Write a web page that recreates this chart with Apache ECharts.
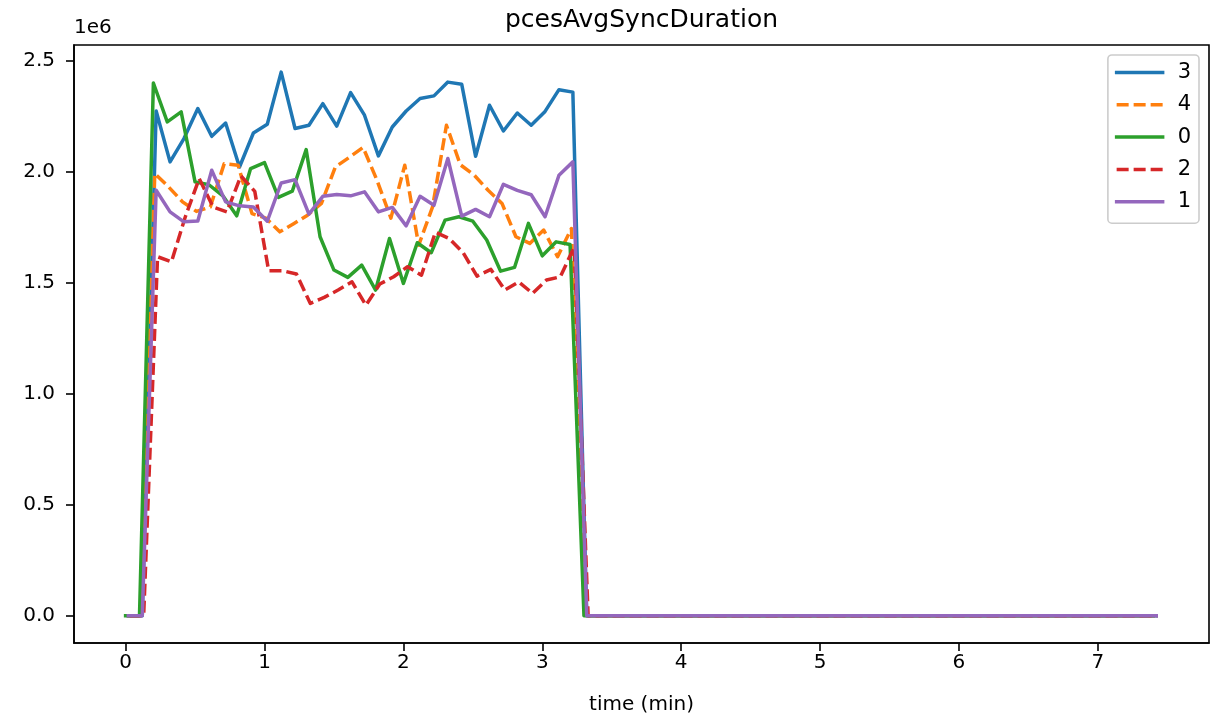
<!DOCTYPE html>
<html>
<head>
<meta charset="utf-8">
<script src="https://cdn.jsdelivr.net/npm/echarts@6/dist/echarts.min.js"></script>
<style>
  html, body { margin: 0; padding: 0; background: #fff; }
  #chart { width: 1211px; height: 718px; }
</style>
</head>
<body>
<div id="chart"></div>
<script>
// sample times (min), one sample every 6 s
const times = [
  0.0, 0.1, 0.2, 0.3, 0.4, 0.5, 0.6, 0.7, 0.8, 0.9,
  1.0, 1.1, 1.2, 1.3, 1.4, 1.5, 1.6, 1.7, 1.8, 1.9,
  2.0, 2.1, 2.2, 2.3, 2.4, 2.5, 2.6, 2.7, 2.8, 2.9,
  3.0, 3.1, 3.2, 3.3, 3.4, 3.5, 3.6, 3.7, 3.8, 3.9,
  4.0, 4.1, 4.2, 4.3, 4.4, 4.5, 4.6, 4.7, 4.8, 4.9,
  5.0, 5.1, 5.2, 5.3, 5.4, 5.5, 5.6, 5.7, 5.8, 5.9,
  6.0, 6.1, 6.2, 6.3, 6.4, 6.5, 6.6, 6.7, 6.8, 6.9,
  7.0, 7.1, 7.2, 7.3, 7.4
]

// each node samples a little later than node 0 (min)
const node3Offset = 0.02
const node4Offset = 0.01
const node0Offset = 0.0
const node2Offset = 0.03
const node1Offset = 0.02

// pcesAvgSyncDuration, x 1e6
const node3 = [
  0, 0,
  2.272, 2.043, 2.148, 2.283, 2.158, 2.218, 2.020, 2.173, 2.212, 2.447,
  2.193, 2.208, 2.305, 2.204, 2.355, 2.253, 2.070, 2.200, 2.272, 2.328,
  2.340, 2.402, 2.392, 2.068, 2.298, 2.182, 2.263, 2.208, 2.270, 2.368,
  2.357,
  0, 0, 0, 0, 0, 0, 0, 0, 0, 0, 0, 0, 0, 0, 0, 0, 0, 0, 0, 0, 0,
  0, 0, 0, 0, 0, 0, 0, 0, 0, 0, 0, 0, 0, 0, 0, 0, 0, 0, 0, 0, 0
]
const node4 = [
  0, 0,
  1.990, 1.930, 1.863, 1.820, 1.840, 2.035, 2.028, 1.810, 1.790, 1.728,
  1.765, 1.803, 1.856, 2.020, 2.063, 2.108, 1.960, 1.790, 2.028, 1.668,
  1.840, 2.208, 2.030, 1.983, 1.915, 1.856, 1.706, 1.676, 1.736, 1.616,
  1.743,
  0, 0, 0, 0, 0, 0, 0, 0, 0, 0, 0, 0, 0, 0, 0, 0, 0, 0, 0, 0, 0,
  0, 0, 0, 0, 0, 0, 0, 0, 0, 0, 0, 0, 0, 0, 0, 0, 0, 0, 0, 0, 0
]
const node0 = [
  0, 0,
  2.398, 2.223, 2.268, 1.953, 1.940, 1.890, 1.800, 2.013, 2.040, 1.883,
  1.911, 2.098, 1.706, 1.556, 1.523, 1.578, 1.466, 1.698, 1.496, 1.679,
  1.634, 1.781, 1.796, 1.776, 1.691, 1.551, 1.568, 1.766, 1.620, 1.683,
  1.671,
  0, 0, 0, 0, 0, 0, 0, 0, 0, 0, 0, 0, 0, 0, 0, 0, 0, 0, 0, 0, 0,
  0, 0, 0, 0, 0, 0, 0, 0, 0, 0, 0, 0, 0, 0, 0, 0, 0, 0, 0, 0, 0
]
const node2 = [
  0, 0,
  1.616, 1.593, 1.796, 1.968, 1.840, 1.818, 1.980, 1.910, 1.553, 1.553,
  1.538, 1.406, 1.433, 1.466, 1.503, 1.398, 1.493, 1.526, 1.571, 1.533,
  1.726, 1.698, 1.634, 1.529, 1.559, 1.466, 1.503, 1.451, 1.511, 1.526,
  1.660,
  0, 0, 0, 0, 0, 0, 0, 0, 0, 0, 0, 0, 0, 0, 0, 0, 0, 0, 0, 0, 0,
  0, 0, 0, 0, 0, 0, 0, 0, 0, 0, 0, 0, 0, 0, 0, 0, 0, 0, 0, 0, 0
]
const node1 = [
  0, 0,
  1.915, 1.818, 1.773, 1.777, 2.005, 1.863, 1.845, 1.840, 1.776, 1.948,
  1.963, 1.808, 1.888, 1.896, 1.890, 1.908, 1.818, 1.838, 1.755, 1.888,
  1.848, 2.058, 1.799, 1.829, 1.796, 1.942, 1.915, 1.895, 1.796, 1.983,
  2.043,
  0, 0, 0, 0, 0, 0, 0, 0, 0, 0, 0, 0, 0, 0, 0, 0, 0, 0, 0, 0, 0,
  0, 0, 0, 0, 0, 0, 0, 0, 0, 0, 0, 0, 0, 0, 0, 0, 0, 0, 0, 0, 0
]

const xTicks = [0, 1, 2, 3, 4, 5, 6, 7]
const yTicks = [0, 0.5, 1.0, 1.5, 2.0, 2.5]

const FONT = 'DejaVu Sans'
const DASH = [12, 5]

function pairs (values, offset) {
  return values.map((v, i) => [+(times[i] + offset).toFixed(3), v])
}

function lineSeries (name, color, values, offset, dashed) {
  return {
    name: name,
    type: 'line',
    symbol: 'none',
    showSymbol: false,
    animation: false,
    lineStyle: {
      color: color,
      width: 3.5,
      type: dashed ? DASH : 'solid',
      join: 'round',
      cap: dashed ? 'butt' : 'square'
    },
    itemStyle: { color: color },
    data: pairs(values, offset)
  }
}

const chart = echarts.init(document.getElementById('chart'))
chart.setOption({
  animation: false,
  backgroundColor: '#fff',
  textStyle: { fontFamily: FONT, color: '#000' },
  title: {
    text: 'pcesAvgSyncDuration',
    left: 641.5,
    textAlign: 'center',
    top: 8,
    padding: 0,
    textStyle: { fontFamily: FONT, fontSize: 25, fontWeight: 'normal', color: '#000' }
  },
  grid: {
    left: 74,
    right: 2,
    top: 45,
    bottom: 75,
    show: true,
    borderColor: '#000',
    borderWidth: 1.6,
    outerBoundsMode: 'none'
  },
  legend: {
    orient: 'vertical',
    right: 12,
    top: 55,
    itemWidth: 46,
    itemHeight: 14,
    itemGap: 11.3,
    padding: [7, 8, 11, 7],
    backgroundColor: '#fff',
    borderColor: '#cccccc',
    borderWidth: 1.6,
    borderRadius: 4,
    itemStyle: { opacity: 0 },
    lineStyle: { width: 3.5 },
    textStyle: { fontFamily: FONT, fontSize: 21, color: '#000', lineHeight: 20, padding: [0, 0, 0, 10] },
    data: ['3', '4', '0', '2', '1']
  },
  xAxis: {
    type: 'value',
    min: -0.3715,
    max: 7.80,
    name: 'time (min)',
    nameLocation: 'middle',
    nameGap: 52,
    nameTextStyle: { fontFamily: FONT, fontSize: 20, color: '#000' },
    axisLine: { show: true, onZero: false, lineStyle: { color: '#000', width: 1.6 } },
    axisTick: { show: true, length: 8, customValues: xTicks, lineStyle: { color: '#000', width: 1.6 } },
    axisLabel: { customValues: xTicks, margin: 10, fontFamily: FONT, fontSize: 20, color: '#000' },
    splitLine: { show: false }
  },
  yAxis: {
    type: 'value',
    min: -0.1225,
    max: 2.569,
    name: '1e6',
    nameLocation: 'end',
    nameGap: 7,
    nameTextStyle: { fontFamily: FONT, fontSize: 20, color: '#000', align: 'left', verticalAlign: 'bottom', padding: 0 },
    axisLine: { show: true, onZero: false, lineStyle: { color: '#000', width: 1.6 } },
    axisTick: { show: true, length: 8, customValues: yTicks, lineStyle: { color: '#000', width: 1.6 } },
    axisLabel: {
      customValues: yTicks,
      margin: 19,
      fontFamily: FONT,
      fontSize: 20,
      color: '#000',
      formatter: v => v.toFixed(1)
    },
    splitLine: { show: false }
  },
  series: [
    lineSeries('3', '#1f77b4', node3, node3Offset, false),
    lineSeries('4', '#ff7f0e', node4, node4Offset, true),
    lineSeries('0', '#2ca02c', node0, node0Offset, false),
    lineSeries('2', '#d62728', node2, node2Offset, true),
    lineSeries('1', '#9467bd', node1, node1Offset, false)
  ]
})
</script>
</body>
</html>
